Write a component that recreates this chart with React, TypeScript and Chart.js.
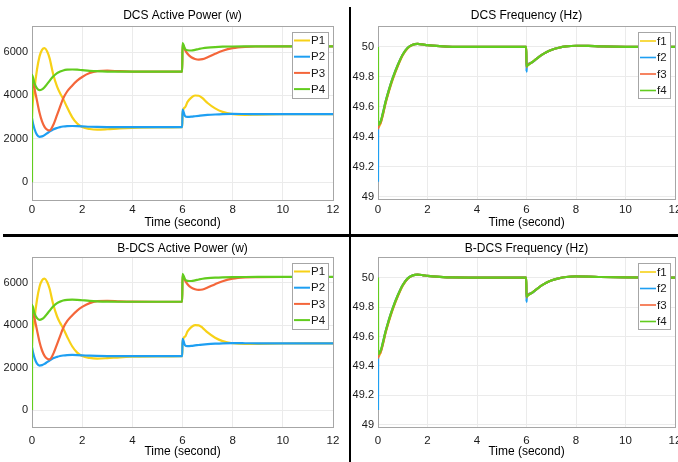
import React, { useEffect, useRef } from 'react';
import { Chart, registerables } from 'chart.js';
Chart.register(...registerables);

// ---------- data ----------
const T_POWER = [0, 0.001, 0.1, 0.2, 0.3, 0.4, 0.5, 0.6, 0.7, 0.84, 1.0, 1.12, 1.24, 1.4, 1.6, 1.8, 2.0, 2.3, 2.6, 3.0, 3.5, 4.0, 5.0, 5.99, 6.0, 6.1, 6.2, 6.35, 6.5, 6.65, 6.8, 7.0, 7.3, 7.6, 8.0, 8.5, 9.0, 10, 11, 12];
const P1 = [3000, 3050, 4300, 5200, 5800, 6100, 6180, 6040, 5720, 5000, 4400, 4100, 3850, 3450, 3000, 2700, 2540, 2450, 2420, 2440, 2480, 2505, 2525, 2535, 3150, 3450, 3700, 3900, 3995, 3985, 3870, 3650, 3400, 3240, 3140, 3105, 3115, 3130, 3135, 3135];
const P2 = [2950, 2940, 2450, 2180, 2090, 2110, 2170, 2250, 2330, 2430, 2500, 2540, 2565, 2585, 2590, 2585, 2575, 2555, 2545, 2538, 2535, 2535, 2535, 2535, 3350, 3050, 3010, 3020, 3040, 3060, 3080, 3100, 3120, 3135, 3145, 3142, 3138, 3135, 3135, 3135];
const P3 = [4750, 4740, 4300, 3750, 3200, 2800, 2550, 2420, 2385, 2620, 3100, 3480, 3850, 4180, 4450, 4680, 4850, 5030, 5120, 5140, 5115, 5100, 5095, 5095, 6350, 6100, 5920, 5760, 5680, 5650, 5670, 5760, 5920, 6060, 6180, 6240, 6255, 6260, 6260, 6260];
const P4 = [0, 4950, 4550, 4320, 4240, 4280, 4380, 4520, 4670, 4870, 5030, 5100, 5150, 5185, 5195, 5185, 5165, 5135, 5115, 5100, 5095, 5095, 5095, 5095, 6410, 6150, 6080, 6070, 6100, 6140, 6175, 6205, 6230, 6245, 6255, 6260, 6262, 6262, 6262, 6262];

const T_FREQ = [0, 0.005, 0.1, 0.2, 0.3, 0.4, 0.5, 0.6, 0.8, 1.0, 1.2, 1.4, 1.6, 1.8, 2.0, 2.5, 3.0, 4.0, 5.0, 5.99, 6.0, 6.01, 6.2, 6.4, 6.6, 6.8, 7.0, 7.3, 7.6, 8.0, 8.5, 9.0, 10, 12];
const F1 = [49.5, 49.46, 49.49, 49.55, 49.62, 49.68, 49.735, 49.785, 49.872, 49.945, 49.992, 50.014, 50.02, 50.017, 50.012, 50.005, 50.001, 50.0, 50.0, 50.0, 49.87, 49.872, 49.895, 49.92, 49.945, 49.965, 49.98, 49.995, 50.004, 50.008, 50.007, 50.004, 50.001, 50.0];
const F2 = [49.1, 49.47, 49.5, 49.56, 49.63, 49.69, 49.745, 49.795, 49.88, 49.95, 49.995, 50.015, 50.02, 50.017, 50.012, 50.005, 50.001, 50.0, 50.0, 50.0, 49.835, 49.872, 49.895, 49.92, 49.945, 49.965, 49.98, 49.995, 50.004, 50.008, 50.007, 50.004, 50.001, 50.0];
const F3 = [49.45, 49.46, 49.49, 49.55, 49.625, 49.685, 49.74, 49.79, 49.876, 49.948, 49.993, 50.015, 50.02, 50.017, 50.012, 50.005, 50.001, 50.0, 50.0, 50.0, 49.865, 49.872, 49.895, 49.92, 49.945, 49.965, 49.98, 49.995, 50.004, 50.008, 50.007, 50.004, 50.001, 50.0];
const F4 = [50.0, 49.48, 49.5, 49.56, 49.63, 49.69, 49.745, 49.795, 49.88, 49.95, 49.995, 50.015, 50.02, 50.017, 50.012, 50.005, 50.001, 50.0, 50.0, 50.0, 49.87, 49.872, 49.895, 49.92, 49.945, 49.965, 49.98, 49.995, 50.004, 50.008, 50.007, 50.004, 50.001, 50.0];

const X_TICKS = [0, 2, 4, 6, 8, 10, 12];
const POWER_TICKS = [0, 2000, 4000, 6000];
const FREQ_TICKS = [49, 49.2, 49.4, 49.6, 49.8, 50];
const FREQ_TICK_LABELS = ['49', '49.2', '49.4', '49.6', '49.8', '50'];
const POWER_LABELS = ['P1', 'P2', 'P3', 'P4'];
const FREQ_LABELS = ['f1', 'f2', 'f3', 'f4'];
const X_TITLE = 'Time (second)';

// ---------- styles ----------
const COLORS = ['#F7D117', '#1E9FF2', '#F4663A', '#62CC1E'];
const FONT = "'Liberation Sans', Arial, Helvetica, sans-serif";
const GRID = '#ebebeb';
const FRAME = '#a6a6a6';
const TEXT = '#1a1a1a';

type LegendCfg = { boxW: number; boxH: number; firstRow: number; rowGap: number; sampleLen: number; sampleW: number };
type PanelCfg = {
  left: number; top: number; width: number; height: number;
  title: string; titlePadTop: number; titlePadBottom: number;
  yMin: number; yMax: number; yTicks: number[]; yLabels: string[] | null; yWidth: number;
  xHeight: number; xTitlePadBottom: number; xTickPad: number; padRight: number;
  xs: number[]; ys: number[][]; labels: string[]; lineWidth: number; legend: LegendCfg;
};

function makePlugins(cfg: PanelCfg) {
  const frame = {
    id: 'frame',
    beforeDatasetsDraw(chart: any) {
      const { ctx, chartArea: a } = chart;
      ctx.save();
      ctx.strokeStyle = FRAME;
      ctx.lineWidth = 1;
      ctx.strokeRect(Math.round(a.left) + 0.5, Math.round(a.top) + 0.5, Math.round(a.right - a.left), Math.round(a.bottom - a.top));
      ctx.restore();
    },
  };
  const legend = {
    id: 'boxLegend',
    afterDatasetsDraw(chart: any) {
      const { ctx, chartArea: a } = chart;
      const L = cfg.legend;
      const right = Math.round(a.right) - 5;
      const left = right - L.boxW;
      const top = Math.round(a.top) + 6;
      ctx.save();
      ctx.fillStyle = '#ffffff';
      ctx.fillRect(left, top, L.boxW, L.boxH);
      ctx.strokeStyle = FRAME;
      ctx.lineWidth = 1;
      ctx.strokeRect(left + 0.5, top + 0.5, L.boxW, L.boxH);
      cfg.labels.forEach((lab, i) => {
        const y = top + L.firstRow + i * L.rowGap;
        ctx.strokeStyle = COLORS[i];
        ctx.lineWidth = L.sampleW;
        ctx.beginPath();
        ctx.moveTo(left + 2, y);
        ctx.lineTo(left + 2 + L.sampleLen, y);
        ctx.stroke();
        ctx.fillStyle = TEXT;
        ctx.font = `11.5px ${FONT}`;
        ctx.textBaseline = 'middle';
        ctx.textAlign = 'left';
        ctx.fillText(lab, left + 3 + L.sampleLen, y + 0.5);
      });
      ctx.restore();
    },
  };
  return [frame, legend];
}

function Panel({ cfg }: { cfg: PanelCfg }) {
  const ref = useRef<HTMLCanvasElement>(null);
  useEffect(() => {
    const datasets = cfg.ys.map((ys, i) => ({
      label: cfg.labels[i],
      data: cfg.xs.map((x, j) => ({ x, y: ys[j] })),
      borderColor: COLORS[i],
      backgroundColor: COLORS[i],
      borderWidth: cfg.lineWidth,
      pointRadius: 0,
      cubicInterpolationMode: 'monotone' as const,
      fill: false,
      order: cfg.ys.length - i,
    }));
    const chart = new Chart(ref.current!, {
      type: 'line',
      data: { datasets },
      plugins: makePlugins(cfg),
      options: {
        animation: false,
        responsive: false,
        devicePixelRatio: 1,
        events: [],
        layout: { padding: { left: 0, right: cfg.padRight, top: 0, bottom: 0 } },
        plugins: {
          legend: { display: false },
          tooltip: { enabled: false },
          title: {
            display: true,
            text: cfg.title,
            fullSize: false,
            color: '#000',
            font: { family: FONT, size: 12, weight: 'normal' as any, lineHeight: 1.2 },
            padding: { top: cfg.titlePadTop, bottom: cfg.titlePadBottom },
          },
        },
        scales: {
          x: {
            type: 'linear',
            min: 0,
            max: 12,
            afterBuildTicks: (s: any) => { s.ticks = X_TICKS.map((v) => ({ value: v })); },
            afterFit: (s: any) => { s.height = cfg.xHeight; },
            grid: { color: GRID, drawTicks: false, lineWidth: 1 },
            border: { display: false },
            ticks: {
              color: TEXT,
              padding: cfg.xTickPad,
              maxRotation: 0,
              autoSkip: false,
              font: { family: FONT, size: 11.5 },
              callback: (v: any) => String(v),
            },
            title: {
              display: true,
              text: X_TITLE,
              color: '#000',
              font: { family: FONT, size: 12, lineHeight: 1.2 },
              padding: { top: 0, bottom: cfg.xTitlePadBottom },
            },
          },
          y: {
            type: 'linear',
            min: cfg.yMin,
            max: cfg.yMax,
            afterBuildTicks: (s: any) => { s.ticks = cfg.yTicks.map((v) => ({ value: v })); },
            afterFit: (s: any) => { s.width = cfg.yWidth; },
            grid: { color: GRID, drawTicks: false, lineWidth: 1 },
            border: { display: false },
            ticks: {
              color: TEXT,
              padding: 4,
              autoSkip: false,
              font: { family: FONT, size: 11 },
              callback: (v: any) => {
                if (cfg.yLabels) {
                  const k = cfg.yTicks.findIndex((t) => Math.abs(t - v) < 1e-6);
                  return k >= 0 ? cfg.yLabels[k] : '';
                }
                return String(v);
              },
            },
          },
        },
      } as any,
    });
    return () => chart.destroy();
  }, [cfg]);
  return (
    <canvas
      ref={ref}
      width={cfg.width}
      height={cfg.height}
      style={{ position: 'absolute', left: cfg.left, top: cfg.top, width: cfg.width, height: cfg.height }}
    />
  );
}

const POWER_LEGEND: LegendCfg = { boxW: 36, boxH: 66, firstRow: 8.5, rowGap: 16.2, sampleLen: 16, sampleW: 2 };
const FREQ_LEGEND: LegendCfg = { boxW: 32, boxH: 66, firstRow: 9, rowGap: 16.5, sampleLen: 16, sampleW: 1.6 };

const PANELS: PanelCfg[] = [
  {
    left: 0, top: 0, width: 349, height: 235, title: 'DCS Active Power (w)', titlePadTop: 8, titlePadBottom: 3.6,
    yMin: -800, yMax: 7200, yTicks: POWER_TICKS, yLabels: null, yWidth: 32,
    xHeight: 35.5, xTitlePadBottom: 5, xTickPad: 3, padRight: 16,
    xs: T_POWER, ys: [P1, P2, P3, P4], labels: POWER_LABELS, lineWidth: 2.2, legend: POWER_LEGEND,
  },
  {
    left: 351, top: 0, width: 340, height: 234, title: 'DCS Frequency (Hz)', titlePadTop: 8, titlePadBottom: 3.6,
    yMin: 48.985, yMax: 50.14, yTicks: FREQ_TICKS, yLabels: FREQ_TICK_LABELS, yWidth: 27,
    xHeight: 35, xTitlePadBottom: 4, xTickPad: 3.5, padRight: 16,
    xs: T_FREQ, ys: [F1, F2, F3, F4], labels: FREQ_LABELS, lineWidth: 2.2, legend: FREQ_LEGEND,
  },
  {
    left: 0, top: 237, width: 349, height: 225, title: 'B-DCS Active Power (w)', titlePadTop: 4, titlePadBottom: 1.6,
    yMin: -800, yMax: 7200, yTicks: POWER_TICKS, yLabels: null, yWidth: 32,
    xHeight: 35, xTitlePadBottom: 3, xTickPad: 6.5, padRight: 16,
    xs: T_POWER, ys: [P1, P2, P3, P4], labels: POWER_LABELS, lineWidth: 2.2, legend: POWER_LEGEND,
  },
  {
    left: 351, top: 237, width: 340, height: 225, title: 'B-DCS Frequency (Hz)', titlePadTop: 4, titlePadBottom: 1.6,
    yMin: 48.985, yMax: 50.14, yTicks: FREQ_TICKS, yLabels: FREQ_TICK_LABELS, yWidth: 27,
    xHeight: 35, xTitlePadBottom: 3, xTickPad: 6.5, padRight: 16,
    xs: T_FREQ, ys: [F1, F2, F3, F4], labels: FREQ_LABELS, lineWidth: 2.2, legend: FREQ_LEGEND,
  },
];

export default function App() {
  return (
    <div style={{ position: 'absolute', left: 0, top: 0, width: 678, height: 462, overflow: 'hidden', background: '#ffffff' }}>
      {PANELS.map((p, i) => (
        <Panel key={i} cfg={p} />
      ))}
      <div style={{ position: 'absolute', left: 349, top: 7, width: 2, height: 455, background: '#000' }} />
      <div style={{ position: 'absolute', left: 3, top: 234, width: 675, height: 3, background: '#000' }} />
    </div>
  );
}
